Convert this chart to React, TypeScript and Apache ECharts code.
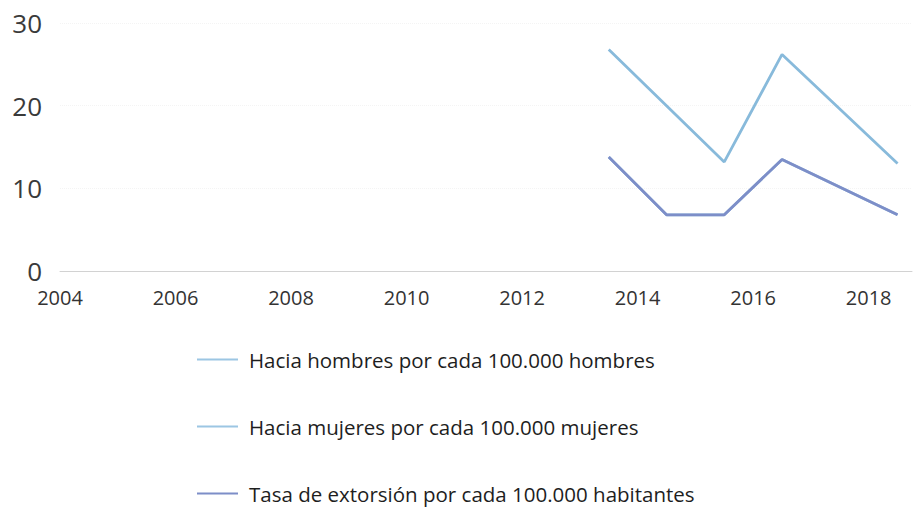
import React, { useEffect, useRef } from "react";
import * as echarts from "echarts";

const xTickLabels = ["2004", "2006", "2008", "2010", "2012", "2014", "2016", "2018"];
const hombresYears = [2013.5, 2015.5, 2016.5, 2018.5];
const hombresValues = [26.8, 13.2, 26.2, 13.0];
const mujeresYears = [2013.5, 2014.5, 2015.5, 2016.5, 2018.5];
const mujeresValues = [13.8, 6.8, 6.8, 13.5, 6.8];
const extorsionYears = [2013.5, 2014.5, 2015.5, 2016.5, 2018.5];
const extorsionValues = [13.8, 6.8, 6.8, 13.5, 6.8];
const seriesNames = [
  "Hacia hombres por cada 100.000 hombres",
  "Hacia mujeres por cada 100.000 mujeres",
  "Tasa de extorsión por cada 100.000 habitantes",
];

const pairs = (xs: number[], ys: number[]) => xs.map((x, i) => [x, ys[i]]);

export default function App() {
  const ref = useRef<HTMLDivElement>(null);
  useEffect(() => {
    if (!ref.current) return;
    const chart = echarts.init(ref.current, undefined, { renderer: "svg" });
    const font = "'Open Sans', 'Noto Sans', sans-serif";
    chart.setOption({
      animation: false,
      backgroundColor: "#ffffff",
      textStyle: { fontFamily: font },
      grid: { left: 60, right: 1, top: 23, bottom: 236, containLabel: false },
      xAxis: {
        type: "value",
        min: 2004,
        max: 2018.75,
        interval: 2,
        axisLine: { show: true, lineStyle: { color: "#d2d2d2", width: 1 } },
        axisTick: { show: false },
        splitLine: { show: false },
        axisLabel: {
          showMaxLabel: false,
          margin: 16,
          fontSize: 20,
          color: "#333333",
          fontFamily: font,
          formatter: (v: number) => {
            const s = String(v);
            return xTickLabels.indexOf(s) >= 0 ? s : "";
          },
        },
      },
      yAxis: {
        type: "value",
        min: 0,
        max: 30,
        interval: 10,
        axisLine: { show: false },
        axisTick: { show: false },
        splitLine: { show: true, lineStyle: { color: "#f4f4f4", type: "dotted", width: 1 } },
        axisLabel: { margin: 18, fontSize: 26, color: "#3a3a3a", fontFamily: font },
      },
      legend: {
        orient: "vertical",
        left: 197,
        top: 349,
        height: 200,
        padding: 0,
        icon: "rect",
        itemWidth: 41,
        itemHeight: 2,
        itemGap: 46,
        textStyle: {
          fontSize: 20.5,
          lineHeight: 20,
          color: "#1e1e1e",
          fontFamily: font,
          padding: [0, 0, 0, 6],
        },
        data: seriesNames,
      },
      series: [
        {
          name: seriesNames[0],
          type: "line",
          symbol: "none",
          data: pairs(hombresYears, hombresValues),
          lineStyle: { color: "#88badb", width: 2.8 },
          itemStyle: { color: "#9cc6e3" },
          z: 3,
        },
        {
          name: seriesNames[1],
          type: "line",
          symbol: "none",
          data: pairs(mujeresYears, mujeresValues),
          lineStyle: { color: "#9cc6e3", width: 2.8 },
          itemStyle: { color: "#9cc6e3" },
          z: 2,
        },
        {
          name: seriesNames[2],
          type: "line",
          symbol: "none",
          data: pairs(extorsionYears, extorsionValues),
          lineStyle: { color: "#7d8ec8", width: 2.8 },
          itemStyle: { color: "#7d8ec8" },
          z: 4,
        },
      ],
    });
    return () => chart.dispose();
  }, []);
  return (
    <div
      ref={ref}
      style={{ position: "fixed", left: 0, top: 0, width: 913, height: 507 }}
    />
  );
}
